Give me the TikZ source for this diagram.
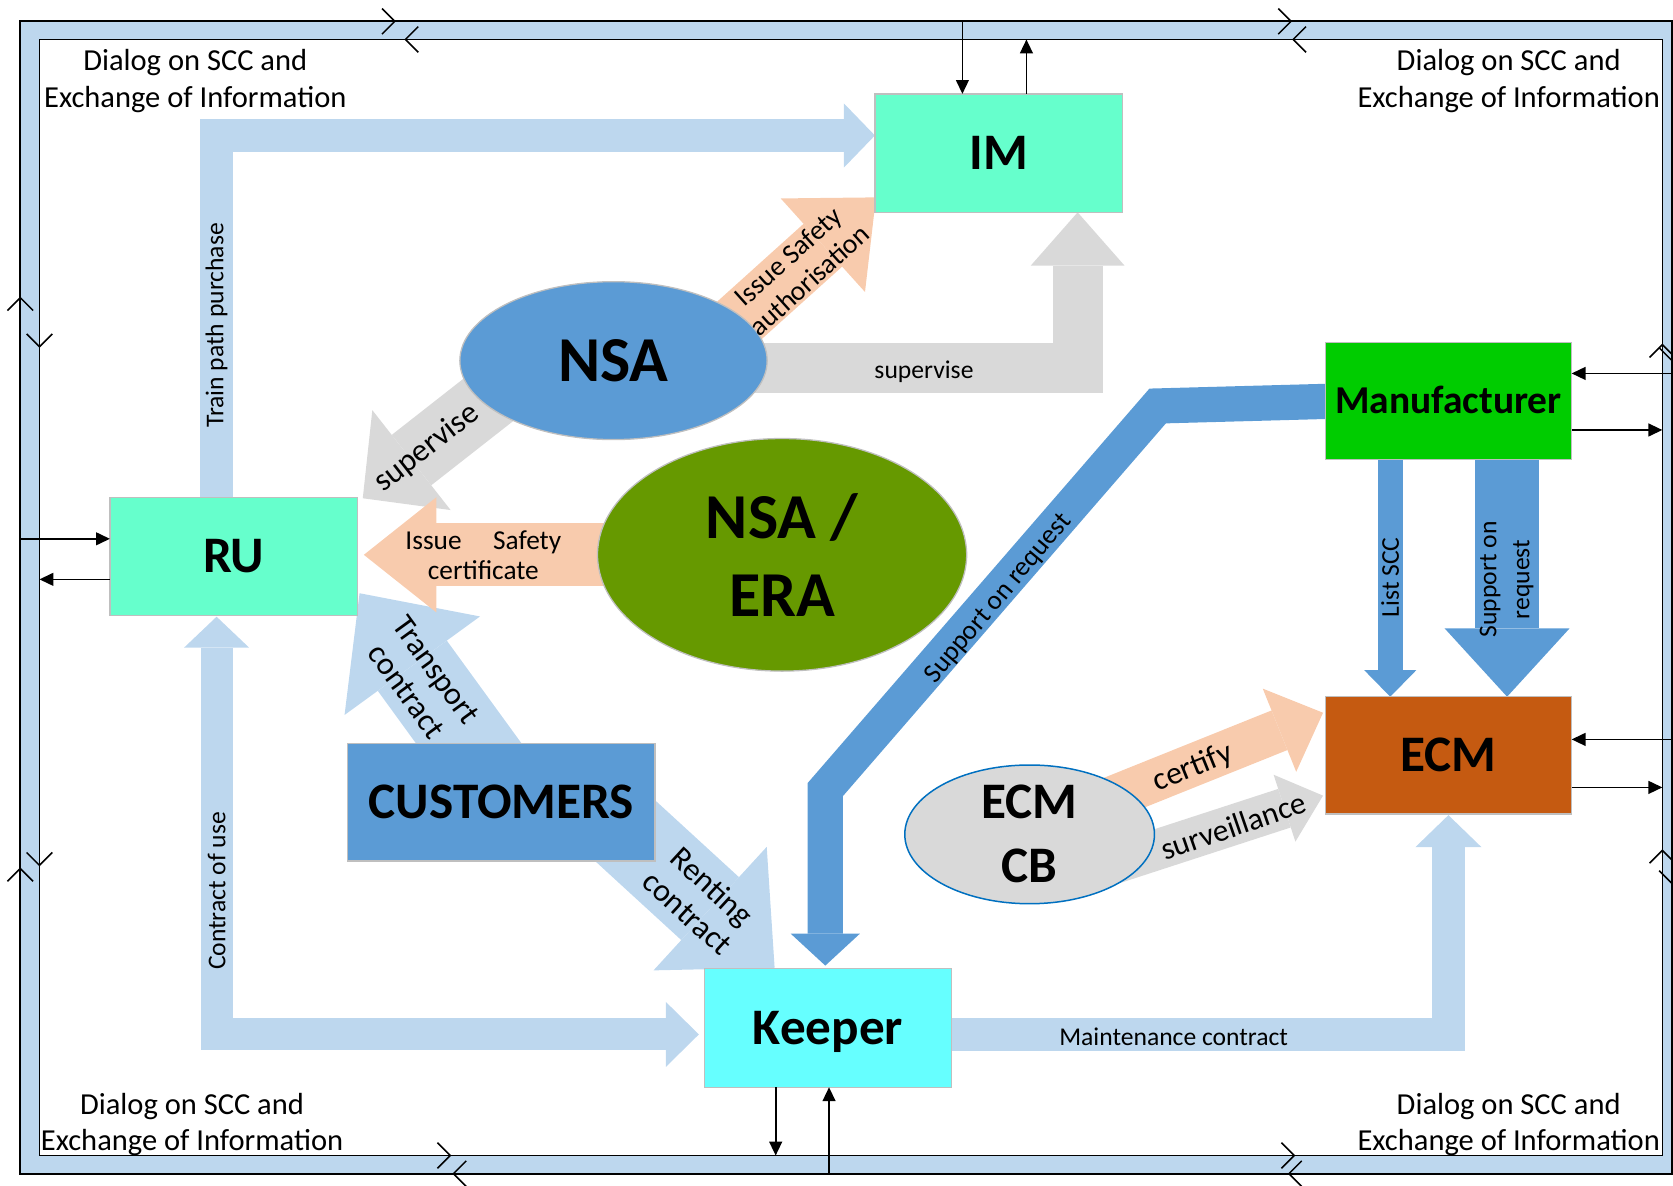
\documentclass[tikz,border=0pt]{standalone}
\usepackage{fontspec}
\setmainfont{Carlito}
\usetikzlibrary{calc,shapes.geometric,arrows.meta}
\definecolor{lbc}{HTML}{BDD7EE}
\definecolor{gyc}{HTML}{D9D9D9}
\definecolor{pcc}{HTML}{F8CBAD}
\definecolor{blc}{HTML}{5B9BD5}
\definecolor{aqc}{HTML}{66FFCC}
\definecolor{cyc}{HTML}{66FFFF}
\definecolor{grc}{HTML}{00CC00}
\definecolor{orc}{HTML}{C55A11}
\definecolor{olc}{HTML}{669900}
\definecolor{ecbd}{HTML}{0070C0}
\definecolor{bdc}{HTML}{BFBFBF}
\newcommand\blockhead[5]{%
  \coordinate (#3b) at ($(#3)!#5!(#2)$);
  \fill[#1] ($(#3b)!#4!90:(#3)$) -- (#3) -- ($(#3b)!#4!-90:(#3)$) -- cycle;}
\begin{document}
\begin{tikzpicture}[x=0.5pt,y=-0.5pt,
  nbox/.style={draw=bdc, line width=0.6pt, inner sep=0pt, outer sep=0pt,
    font=\fontsize{24}{29}\selectfont\bfseries, text height=15.5pt, text depth=0pt},
  ell/.style={ellipse, draw=bdc, line width=0.6pt, inner sep=0pt, outer sep=0pt, align=center},
  lbl/.style={inner sep=0pt, font=\fontsize{12}{15}\selectfont, align=center},
  frameline/.style={line width=0.8pt, black},
  conn/.style={line width=0.8pt, black, -{Triangle[length=6.5pt,width=6pt]}},
  chev/.pic={\draw[line width=0.7pt] (-12,-12) -- (0,0) -- (-12,12);}
]
\useasboundingbox (0,0) rectangle (1568,1111);
% frame
\fill[lbc, even odd rule] (19,20) rectangle (1567,1100) (37,37) rectangle (1558,1083);
\draw[frameline] (19,20) rectangle (1567,1100);
\draw[frameline] (37,37) rectangle (1558,1083);
\pic at (370,20) {chev};
\pic[rotate=180] at (380,37) {chev};
\pic at (1210,20) {chev};
\pic[rotate=180] at (1212,37) {chev};
\pic at (422,1083) {chev};
\pic[rotate=180] at (425,1100) {chev};
\pic at (1213,1083) {chev};
\pic[rotate=180] at (1208,1100) {chev};
\pic[rotate=90] at (19,279) {chev};
\pic[rotate=-90] at (37,325) {chev};
\pic[rotate=-90] at (37,811) {chev};
\pic[rotate=90] at (19,814) {chev};
\pic[rotate=90] at (1558,323) {chev};
\pic[rotate=-90] at (1567,338) {chev};
\pic[rotate=90] at (1558,797) {chev};
\pic[rotate=-90] at (1567,828) {chev};
% corner labels
\node[lbl, font=\fontsize{14.3}{17}\selectfont] (dtl) at (183,76) {Dialog on SCC and\\Exchange of Information};
\node[lbl, font=\fontsize{14.3}{17}\selectfont] (dtr) at (1414,76) {Dialog on SCC and\\Exchange of Information};
\node[lbl, font=\fontsize{14.3}{17}\selectfont] (dbl) at (180,1054) {Dialog on SCC and\\Exchange of Information};
\node[lbl, font=\fontsize{14.3}{17}\selectfont] (dbr) at (1414,1054) {Dialog on SCC and\\Exchange of Information};
% light blue arrows
\coordinate (tpS) at (203,470);
\coordinate (tpC) at (203,127);
\coordinate (tpT) at (820,127);
\blockhead{lbc}{tpC}{tpT}{15pt}{14.5pt}
\draw[lbc, line width=15.5pt, line join=miter] (tpS) -- (tpC) -- (tpTb);
\coordinate (cuT) at (203,578);
\coordinate (cuC) at (203,969.5);
\coordinate (cuK) at (655,969.5);
\blockhead{lbc}{cuC}{cuT}{15.25pt}{14.5pt}
\blockhead{lbc}{cuC}{cuK}{15.25pt}{15.5pt}
\draw[lbc, line width=15pt, line join=miter] (cuTb) -- (cuC) -- (cuKb);
\coordinate (mcS) at (880,969.5);
\coordinate (mcC) at (1357.5,969.5);
\coordinate (mcT) at (1357.5,764);
\blockhead{lbc}{mcC}{mcT}{15.5pt}{15pt}
\draw[lbc, line width=15.5pt, line join=miter] (mcS) -- (mcC) -- (mcTb);
\coordinate (trS) at (465,732);
\coordinate (trT) at (337,556);
\blockhead{lbc}{trS}{trT}{39.25pt}{42pt}
\draw[lbc, line width=40pt] (trS) -- (trTb);
\coordinate (rcS) at (570,764);
\coordinate (rcT) at (726,907);
\blockhead{lbc}{rcS}{rcT}{39.25pt}{41pt}
\draw[lbc, line width=40pt] (rcS) -- (rcTb);
% gray arrows
\coordinate (siS) at (640,345);
\coordinate (siC) at (1010,345);
\coordinate (siT) at (1010,199);
\blockhead{gyc}{siC}{siT}{22pt}{25pt}
\draw[gyc, line width=23.5pt, line join=miter] (siS) -- (siC) -- (siTb);
\coordinate (srS) at (474,362);
\coordinate (srT) at (340,467);
\blockhead{gyc}{srS}{srT}{29.75pt}{29pt}
\draw[gyc, line width=30pt] (srS) -- (srTb);
\coordinate (svS) at (1021,817);
\coordinate (svT) at (1240,745.7);
\blockhead{gyc}{svS}{svT}{16.5pt}{19pt}
\draw[gyc, line width=19pt] (svS) -- (svTb);
% peach arrows
\coordinate (iaS) at (650,339);
\coordinate (iaT) at (821,185);
\blockhead{pcc}{iaS}{iaT}{29.5pt}{33.5pt}
\draw[pcc, line width=27pt] (iaS) -- (iaTb);
\coordinate (icS) at (620,520);
\coordinate (icT) at (341,520);
\blockhead{pcc}{icS}{icT}{27pt}{34pt}
\draw[pcc, line width=29.5pt] (icS) -- (icTb);
\coordinate (ceS) at (1036,750);
\coordinate (ceT) at (1240,668);
\blockhead{pcc}{ceS}{ceT}{21pt}{22pt}
\draw[pcc, line width=20pt] (ceS) -- (ceTb);
% blue arrows
\coordinate (sqA) at (1250,376);
\coordinate (sqB) at (1085,380.5);
\coordinate (sqC) at (773.5,740);
\coordinate (sqT) at (773.5,905);
\blockhead{blc}{sqC}{sqT}{16.25pt}{15pt}
\draw[blc, line width=16.5pt, line join=miter] (sqA) -- (sqB) -- (sqC) -- (sqTb);
\coordinate (lsS) at (1303,425);
\coordinate (lsT) at (1303,653);
\blockhead{blc}{lsS}{lsT}{12.25pt}{12.5pt}
\draw[blc, line width=11.75pt] (lsS) -- (lsTb);
\coordinate (s2S) at (1412.5,425);
\coordinate (s2T) at (1412.5,653);
\blockhead{blc}{s2S}{s2T}{29.25pt}{32pt}
\draw[blc, line width=29.75pt] (s2S) -- (s2Tb);
% nodes
\node[nbox, fill=aqc, minimum width=116pt, minimum height=55.5pt] (IM) at (936,143.5) {IM};
\node[nbox, fill=aqc, minimum width=116pt, minimum height=55.5pt] (RU) at (219,521.5) {RU};
\node[nbox, fill=cyc, minimum width=116pt, minimum height=55.5pt] (Keeper) at (776,963.5) {Keeper};
\node[nbox, fill=blc, minimum width=144pt, minimum height=55pt] (CUST) at (470,752) {CUSTOMERS};
\node[nbox, fill=grc, minimum width=115.5pt, minimum height=55pt,
  font=\fontsize{18.5}{22}\selectfont\bfseries, text height=11.9pt] (Manu) at (1357.5,376) {Manufacturer};
\node[nbox, fill=orc, minimum width=115.5pt, minimum height=55pt] (ECM) at (1357.5,708) {ECM};
\node[ell, fill=blc, minimum width=144pt, minimum height=74pt,
  font=\fontsize{30}{36}\selectfont\bfseries] (NSA) at (575,338) {NSA};
\node[ell, fill=olc, minimum width=173pt, minimum height=109pt,
  font=\fontsize{30}{36.5}\selectfont\bfseries] (NSAERA) at (733,520) {NSA /\\ERA};
\node[ell, draw=ecbd, line width=0.7pt, fill=gyc, minimum width=117pt, minimum height=65pt,
  font=\fontsize{24}{30}\selectfont\bfseries] (ECMCB) at (965,782) {ECM\\CB};
% arrow labels
\node[lbl, rotate=90] (ltrain) at (203,305) {Train path purchase};
\node[lbl, rotate=90] (lcuse) at (203,835) {Contract of use};
\node[lbl] (lmaint) at (1100,972) {Maintenance contract};
\node[lbl] (lsupim) at (866,348) {supervise};
\node[lbl, rotate=38, font=\fontsize{15}{18}\selectfont] (lsupru) at (400,420) {supervise};
\node[lbl, rotate=42, font=\fontsize{13}{15}\selectfont] (lauth) at (748.5,251.5) {Issue Safety\\authorisation};
\node[lbl, font=\fontsize{12.8}{14}\selectfont] (lcert) at (453,520) {\hbox to 73pt{Issue\hfill Safety}\\certificate};
\node[lbl, rotate=-54, font=\fontsize{15}{17}\selectfont] (ltrans) at (395,638) {Transport\\contract};
\node[lbl, rotate=-42.5, font=\fontsize{15}{17}\selectfont] (lrent) at (656,843) {Renting\\contract};
\node[lbl, rotate=50, font=\fontsize{12.7}{15}\selectfont] (lsup1) at (936,561) {Support on request};
\node[lbl, rotate=90] (llist) at (1303,541) {List SCC};
\node[lbl, rotate=90, font=\fontsize{12}{15.5}\selectfont] (lsup2) at (1412,543) {Support on\\request};
\node[lbl, rotate=22, font=\fontsize{15}{18}\selectfont] (lcertify) at (1118,720) {certify};
\node[lbl, rotate=19, font=\fontsize{14.7}{18}\selectfont] (lsurv) at (1156,774) {surveillance};
% black connectors
\coordinate (ruin) at (19,505);
\coordinate (ruout) at (37,543);
\draw[conn] (ruin) -- (ruin -| RU.west);
\draw[conn] (ruout -| RU.west) -- (ruout);
\coordinate (imin) at (902,20);
\coordinate (imout) at (962,37);
\draw[conn] (imin) -- (imin |- IM.north);
\draw[conn] (imout |- IM.north) -- (imout);
\coordinate (kout) at (727,1083);
\coordinate (kin) at (777,1100);
\draw[conn] (kout |- Keeper.south) -- (kout);
\draw[conn] (kin) -- (kin |- Keeper.south);
\coordinate (mnin) at (1567,350);
\coordinate (mnout) at (1558,403);
\draw[conn] (mnin) -- (mnin -| Manu.east);
\draw[conn] (mnout -| Manu.east) -- (mnout);
\coordinate (ecin) at (1567,693);
\coordinate (ecout) at (1558,738);
\draw[conn] (ecin) -- (ecin -| ECM.east);
\draw[conn] (ecout -| ECM.east) -- (ecout);
\end{tikzpicture}
\end{document}
